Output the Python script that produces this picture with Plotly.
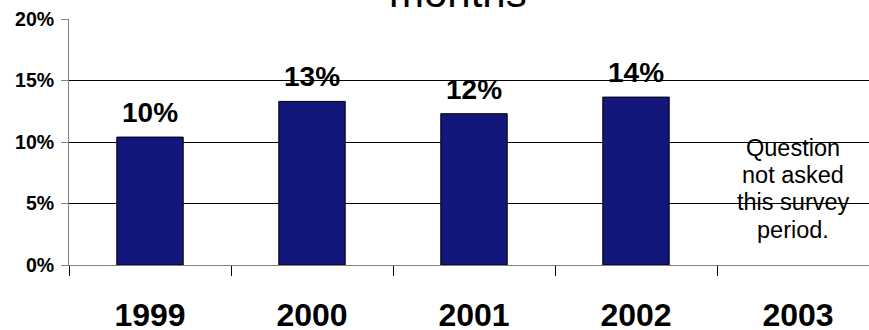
import plotly.graph_objects as go

years = ["1999", "2000", "2001", "2002", "2003"]
values = [10.4, 13.3, 12.3, 13.65, None]
value_labels = ["10%", "13%", "12%", "14%", ""]
y_ticks = [0, 5, 10, 15, 20]
y_tick_labels = ["0%", "5%", "10%", "15%", "20%"]
note_lines = ["Question", "not asked", "this survey", "period."]
title_text = "months"

FONT = "Arial, Liberation Sans, sans-serif"
BAR_COLOR = "#13177C"

W, H = 869, 330
M_L, M_R, M_T, M_B = 69, 0, 19, 65
cat_px = 162.0
plot_w = W - M_L - M_R
x_range = [-0.5, -0.5 + plot_w / cat_px]

fig = go.Figure()
fig.add_trace(go.Bar(
    x=years, y=values,
    width=0.41,
    marker=dict(color=BAR_COLOR, line=dict(color="#000000", width=1)),
    hoverinfo="skip",
))

annotations = []
for i, (v, lab) in enumerate(zip(values, value_labels)):
    if v is None:
        continue
    annotations.append(dict(
        x=i, y=v, xref="x", yref="y", text=f"<b>{lab}</b>",
        showarrow=False, yanchor="bottom", yshift=7,
        font=dict(family=FONT, size=28, color="#000000"),
    ))

# note for 2003
plot_h = H - M_T - M_B
px_per_unit = plot_h / 20.0
first_baseline_px = 157
line_step = 27.2
note_idx = years.index("2003")
for i, line in enumerate(note_lines):
    base_px = first_baseline_px + i * line_step
    y_val = (H - M_B - base_px) / px_per_unit
    annotations.append(dict(
        x=note_idx, y=y_val, xref="x", yref="y", text=line,
        showarrow=False, yanchor="bottom", yshift=-6, xshift=-5,
        font=dict(family=FONT, size=23.5, color="#000000"),
    ))

annotations.append(dict(
    x=(458 - M_L) / plot_w, y=1.0, xref="paper", yref="paper", text=title_text,
    showarrow=False, yanchor="bottom", yshift=1,
    font=dict(family=FONT, size=42, color="#000000"),
))

fig.update_layout(
    width=W, height=H,
    margin=dict(l=M_L, r=M_R, t=M_T, b=M_B, pad=0, autoexpand=False),
    paper_bgcolor="#FFFFFF", plot_bgcolor="#FFFFFF",
    showlegend=False,
    annotations=annotations,
)
fig.update_xaxes(
    type="category", range=x_range, automargin=False,
    showgrid=False, zeroline=False,
    showline=True, linecolor="#808080", linewidth=1,
    ticks="outside", tickson="boundaries", ticklen=10, tickcolor="#000000", tickwidth=1,
    tickfont=dict(family=FONT, size=32, color="#000000", weight="bold"),
    ticklabelstandoff=22,
    fixedrange=True,
)
fig.update_yaxes(
    range=[0, 20], tickvals=y_ticks, ticktext=y_tick_labels, automargin=False,
    showgrid=True, gridcolor="#000000", gridwidth=1,
    zeroline=False,
    showline=True, linecolor="#808080", linewidth=1,
    ticks="outside", ticklen=7, tickcolor="#808080", tickwidth=1,
    tickfont=dict(family=FONT, size=19.5, color="#000000", weight="bold"),
    ticklabelstandoff=3,
    fixedrange=True,
)

fig.write_html(
    "out.html",
    config={"displayModeBar": False},
    post_script="document.body.style.margin='0';document.body.style.overflow='hidden';",
)
